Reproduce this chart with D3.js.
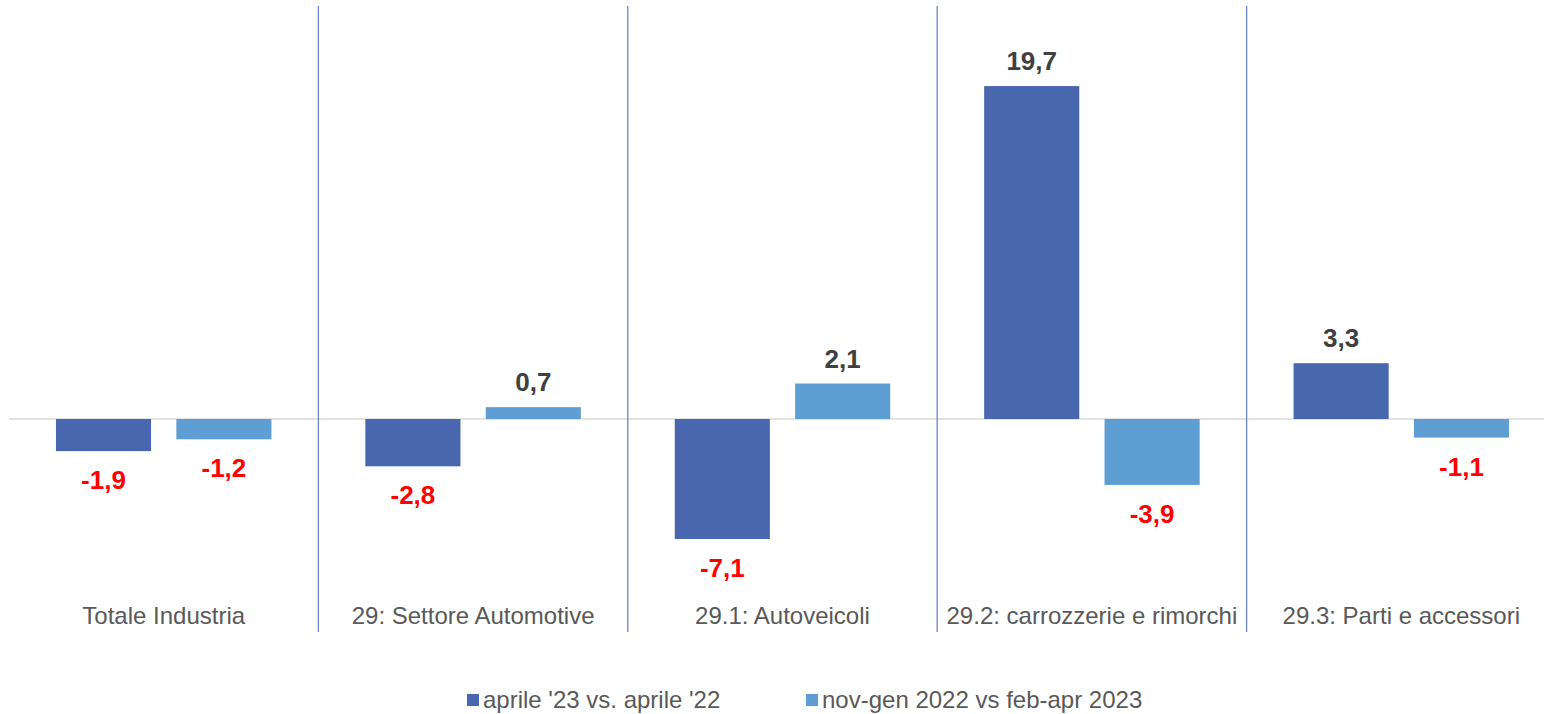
<!DOCTYPE html>
<html><head><meta charset="utf-8">
<script src="https://cdn.jsdelivr.net/npm/d3@7/dist/d3.min.js"></script>
<style>html,body{margin:0;padding:0;background:#fff;}svg{display:block;font-family:"Liberation Sans",Arial,sans-serif;}</style>
</head><body>
<svg id="c" width="1544" height="714"></svg>
<script>
const categories = ["Totale Industria","29: Settore Automotive","29.1: Autoveicoli","29.2: carrozzerie e rimorchi","29.3: Parti e accessori"];
const seriesNames = ["aprile '23 vs. aprile '22","nov-gen 2022 vs feb-apr 2023"];
const seriesA = [-1.9, -2.8, -7.1, 19.7, 3.3];
const seriesB = [-1.2, 0.7, 2.1, -3.9, -1.1];
const colors = ["#4967AE", "#5F9ED2"];

const svg = d3.select("#c");
const x0 = d3.scaleBand().domain(categories).range([9, 1556]).padding(0);
const x1 = d3.scaleBand().domain(seriesNames).range([0, x0.bandwidth()]).paddingInner(0.21).paddingOuter(0.39);
const y = d3.scaleLinear().domain([-10, 20]).range([588, 81]);
const fmt = v => d3.format(".1f")(v).replace(".", ",").replace("−", "-");

// zero line
svg.append("line").attr("x1", 9).attr("x2", 1544).attr("y1", y(0)).attr("y2", y(0))
  .attr("stroke", "#d9d9d9").attr("stroke-width", 1.5);

// dividers
categories.slice(1).forEach(c => {
  svg.append("line").attr("x1", x0(c)).attr("x2", x0(c)).attr("y1", 6).attr("y2", 632)
    .attr("stroke", "#6f84c6").attr("stroke-width", 1.3);
});

const series = [seriesA, seriesB];
series.forEach((vals, si) => {
  const g = svg.append("g");
  vals.forEach((v, i) => {
    const xx = x0(categories[i]) + x1(seriesNames[si]);
    g.append("rect").attr("x", xx).attr("width", x1.bandwidth())
      .attr("y", y(Math.max(0, v))).attr("height", Math.abs(y(v) - y(0)))
      .attr("fill", colors[si]);
    g.append("text").attr("x", xx + x1.bandwidth() / 2)
      .attr("y", v >= 0 ? y(v) - 16 : y(v) + 38)
      .attr("text-anchor", "middle").attr("font-size", 26).attr("font-weight", "bold")
      .attr("fill", v >= 0 ? "#404040" : "#FF0000").text(fmt(v));
  });
});

// category labels
categories.forEach(c => {
  svg.append("text").attr("x", x0(c) + x0.bandwidth() / 2).attr("y", 624)
    .attr("text-anchor", "middle").attr("font-size", 24).attr("fill", "#595959").text(c);
});

// legend
const legX = [467, 806];
seriesNames.forEach((s, i) => {
  svg.append("rect").attr("x", legX[i]).attr("y", 694).attr("width", 12).attr("height", 12).attr("fill", colors[i]);
  svg.append("text").attr("x", legX[i] + 16).attr("y", 708).attr("font-size", 24).attr("fill", "#595959").text(s);
});
</script>
</body></html>
